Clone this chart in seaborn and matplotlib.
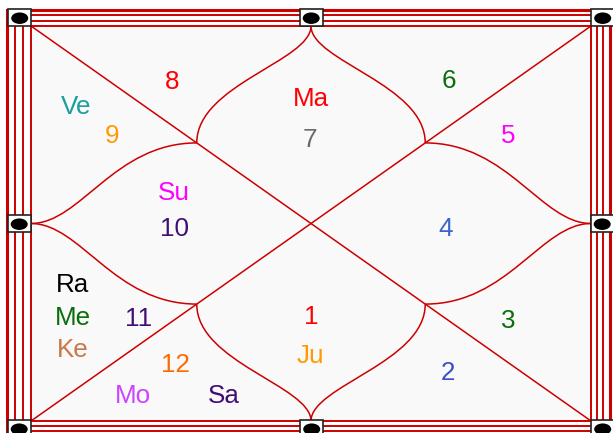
import matplotlib
matplotlib.use("Agg")
import matplotlib.pyplot as plt
import numpy as np
import pandas as pd
import seaborn as sns
from matplotlib.patches import Rectangle, Ellipse, PathPatch
from matplotlib.path import Path

# ---------------- data ----------------
sign_numbers = [8, 9, 7, 6, 5, 10, 4, 11, 1, 3, 12, 2]
sign_colors = ["#ff0000", "#ff9a00", "#6b6b6b", "#0a6e0a", "#ff00ff", "#3f0f73",
               "#3a66cc", "#3f0f73", "#ff0000", "#0a6e0a", "#ff6a00", "#3c4fc4"]
planets = ["Ve", "Ma", "Su", "Ra", "Me", "Ke", "Ju", "Mo", "Sa"]
planet_colors = ["#1a9e9e", "#ff0000", "#ff00ff", "#000000", "#0a6e0a",
                 "#c8784a", "#ff9a00", "#cc44ff", "#3f0f73"]

# ---------------- layout (pixel positions of text baselines) ----------------
sign_pos = [(172.5, 89), (112.5, 142.7), (310, 146.7), (449, 88), (508, 143),
            (174.3, 236), (446, 236), (139, 325.7), (311.5, 324.3), (508, 328),
            (175.3, 372), (448, 380)]
planet_pos = [(76, 114), (310.5, 106), (174, 200), (73, 291.7), (73, 325),
              (72.8, 356.7), (310.3, 362.7), (133, 402.7), (224, 403)]

W, H = 613, 433
sns.set_theme(style="white")
plt.rcParams["font.family"] = ["Liberation Sans", "DejaVu Sans"]

fig = plt.figure(figsize=(W / 100, H / 100), dpi=100)
ax = fig.add_axes([0, 0, 1, 1])
ax.set_xlim(0, W)
ax.set_ylim(H, 0)
ax.axis("off")
fig.patch.set_facecolor("white")

RED = "#cc0000"
L, R, T, B = 31, 591, 26, 421
MX, MY = (L + R) / 2, (T + B) / 2

# inner background
ax.add_patch(Rectangle((L, T), R - L, B - T, facecolor="#f9f9f9", edgecolor="none", zorder=0))

# frame lines
xs_left = [7, 15, 22.5, 30.5]
xs_right = [610, 603, 597, 591]
ys_top = [10, 15, 20.5, 26]
ys_bot = [436, 430.5, 426, 421]
for i in range(4):
    lw = 2.2 if i == 0 else 1.4
    x0, x1 = xs_left[i], xs_right[i]
    y0, y1 = ys_top[i], ys_bot[i]
    ax.plot([x0, x1, x1, x0, x0], [y0, y0, y1, y1, y0], color=RED, lw=lw, zorder=2,
            solid_joinstyle="miter")

# diagonals (via seaborn)
diag = pd.DataFrame({"x": [L, R, L, R], "y": [T, B, B, T], "d": ["a", "a", "b", "b"]})
sns.lineplot(data=diag, x="x", y="y", units="d", estimator=None, sort=False,
             color=RED, lw=1.1, ax=ax, zorder=3, legend=False)
ax.set_xlim(0, W)
ax.set_ylim(H, 0)
ax.axis("off")

# lotus curves
fx = 0.296
px1, px2 = L + fx * (R - L), R - fx * (R - L)
py1, py2 = T + fx * (B - T), B - fx * (B - T)
a1, a2 = 0.30, 0.50


def curve(p0, p3, vertical):
    (x0, y0), (x3, y3) = p0, p3
    if vertical:
        dy = y3 - y0
        c1 = (x0, y0 + a1 * dy)
        c2 = (x3, y0 + a2 * dy)
    else:
        dx = x3 - x0
        c1 = (x0 + a1 * dx, y0)
        c2 = (x0 + a2 * dx, y3)
    path = Path([p0, c1, c2, p3], [Path.MOVETO, Path.CURVE4, Path.CURVE4, Path.CURVE4])
    ax.add_patch(PathPatch(path, facecolor="none", edgecolor=RED, lw=1.1, zorder=3))


curve((MX, T), (px1, py1), True)
curve((MX, T), (px2, py1), True)
curve((MX, B), (px1, py2), True)
curve((MX, B), (px2, py2), True)
curve((L, MY), (px1, py1), False)
curve((L, MY), (px1, py2), False)
curve((R, MY), (px2, py1), False)
curve((R, MY), (px2, py2), False)

# boxes with black ellipses
boxes = [(8, 9), (299.5, 9), (591, 9), (7.5, 215), (590.5, 215), (7.5, 420), (300, 420), (591, 420)]
for bx, by in boxes:
    ax.add_patch(Rectangle((bx, by), 23, 17, facecolor="white", edgecolor="#222222",
                           lw=1.2, zorder=5))
    ax.add_patch(Ellipse((bx + 11.7, by + 9.2), 17, 11.5, facecolor="black",
                         edgecolor="none", zorder=6))

FS = 18.7
for n, c, (x, y) in zip(sign_numbers, sign_colors, sign_pos):
    ax.text(x, y, str(n), color=c, fontsize=FS, ha="center", va="baseline", zorder=7)
for p, c, (x, y) in zip(planets, planet_colors, planet_pos):
    ax.text(x, y, p, color=c, fontsize=FS, ha="center", va="baseline", zorder=7)

fig.savefig("out.png", dpi=100, facecolor="white")
